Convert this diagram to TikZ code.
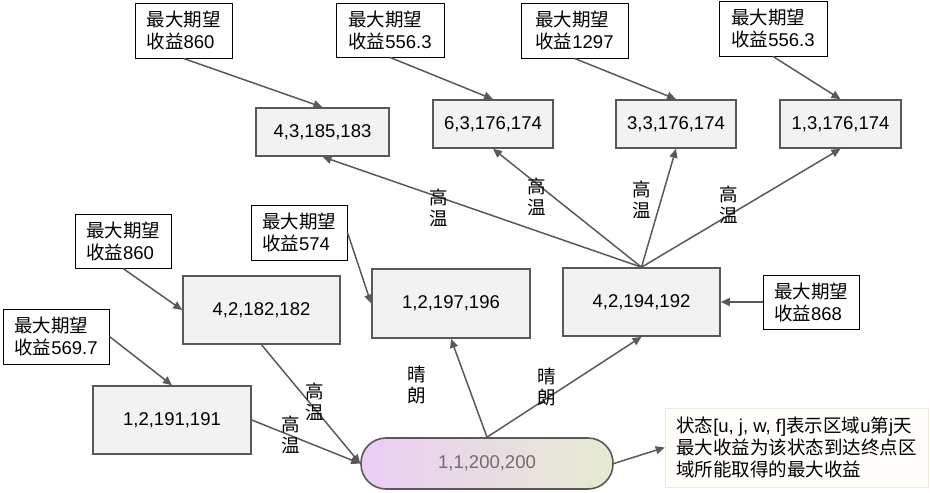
\documentclass[tikz,border=0pt]{standalone}
\usepackage{fontspec}
\setmainfont{Liberation Sans}
\newfontfamily\cjk{Noto Sans CJK SC}
\usetikzlibrary{arrows.meta}
\definecolor{edgec}{HTML}{595959}
\definecolor{boxfill}{HTML}{F2F2F2}
\definecolor{rootL}{HTML}{EBCDF5}
\definecolor{rootR}{HTML}{E6EBD0}
\definecolor{rootT}{HTML}{6E6E6E}
\definecolor{noteB}{HTML}{EEE8D8}
\definecolor{noteF}{HTML}{FFFEFB}
\begin{document}
\begin{tikzpicture}[x=1pt,y=-1pt,
  font=\fontsize{18.5}{22}\selectfont,
  state/.style={draw=edgec, line width=1.6pt, fill=boxfill, inner sep=0pt, text=black},
  anno/.style={draw=black, line width=0.9pt, fill=white, align=left, inner sep=0pt},
  arr/.style={draw=edgec, line width=1.5pt, -{Triangle[length=9pt,width=8pt]}},
  lab/.style={align=center, inner sep=0pt, font=\fontsize{18.5}{21}\selectfont\cjk}]
\useasboundingbox (0,0) rectangle (930,493);

% state boxes
\node[state, minimum width=133, minimum height=48] (B1) at (322.5,132) {4,3,185,183};
\node[state, minimum width=120, minimum height=48] (B2) at (493,124) {6,3,176,174};
\node[state, minimum width=120, minimum height=48] (B3) at (676,124) {3,3,176,174};
\node[state, minimum width=121, minimum height=48] (B4) at (840.5,124) {1,3,176,174};
\node[state, minimum width=157, minimum height=68] (B5) at (261.5,310) {4,2,182,182};
\node[state, minimum width=158, minimum height=69] (B6) at (451,303.5) {1,2,197,196};
\node[state, minimum width=157, minimum height=68] (B7) at (641.5,302) {4,2,194,192};
\node[state, minimum width=158, minimum height=68] (B8) at (172,420) {1,2,191,191};

% root
\node[draw=edgec, line width=1.6pt, rounded corners=25pt, left color=rootL, right color=rootR,
  minimum width=252, minimum height=51, inner sep=0pt, text=rootT] (R) at (487,463.5) {1,1,200,200};

% note
\node[draw=noteB, line width=0.6pt, fill=noteF, minimum width=263, minimum height=79,
  align=left, inner sep=0pt] (N) at (796.5,447.5)
  {{\cjk 状态}[u, j, w, f]{\cjk 表示区域}u{\cjk 第}j{\cjk 天}\\
   {\cjk 最大收益为该状态到达终点区}\\
   {\cjk 域所能取得的最大收益}};

% annotation boxes
\node[anno, minimum width=97, minimum height=55] (A1) at (183.5,30.5) {{\cjk 最大期望}\\{\cjk 收益}860};
\node[anno, minimum width=108, minimum height=54] (A2) at (390,30) {{\cjk 最大期望}\\{\cjk 收益}556.3};
\node[anno, minimum width=107, minimum height=55] (A3) at (574.5,30.5) {{\cjk 最大期望}\\{\cjk 收益}1297};
\node[anno, minimum width=108, minimum height=55] (A4) at (773,28.5) {{\cjk 最大期望}\\{\cjk 收益}556.3};
\node[anno, minimum width=96, minimum height=54] (A5) at (123,241) {{\cjk 最大期望}\\{\cjk 收益}860};
\node[anno, minimum width=96, minimum height=55] (A6) at (299,232.5) {{\cjk 最大期望}\\{\cjk 收益}574};
\node[anno, minimum width=106, minimum height=55] (A7) at (56,336.5) {{\cjk 最大期望}\\{\cjk 收益}569.7};
\node[anno, minimum width=96, minimum height=54] (A8) at (811,302) {{\cjk 最大期望}\\{\cjk 收益}868};

% annotation arrows
\draw[arr] (A1.south) -- (B1.north);
\draw[arr] (A2.south) -- (B2.north);
\draw[arr] (A3.south) -- (B3.north);
\draw[arr] (A4.south) -- (B4.north);
\draw[arr] (A5.south) -- (B5.west);
\draw[arr] (A6.east) -- (B6.west);
\draw[arr] (A7.east) -- (B8.north);
\draw[arr] (A8.west) -- (B7.east);

% transitions
\draw[arr] (B7.north) -- (B1.south);
\draw[arr] (B7.north) -- (B2.south);
\draw[arr] (B7.north) -- (B3.south);
\draw[arr] (B7.north) -- (B4.south);
\draw[arr] (B5.south) -- (R.west);
\draw[arr] (B8.east) -- (R.west);
\draw[arr] (R.north) -- (B6.south);
\draw[arr] (R.north) -- (B7.south);
\draw[arr] (R.east) -- (N.west);

% labels
\node[lab] (L1) at (439,208) {高\\温};
\node[lab] (L2) at (537,197) {高\\温};
\node[lab] (L3) at (642,200) {高\\温};
\node[lab] (L4) at (729,205) {高\\温};
\node[lab] (L5) at (315,402) {高\\温};
\node[lab] (L6) at (291,435) {高\\温};
\node[lab] (L7) at (417,385) {晴\\朗};
\node[lab] (L8) at (547,387) {晴\\朗};
\end{tikzpicture}
\end{document}
